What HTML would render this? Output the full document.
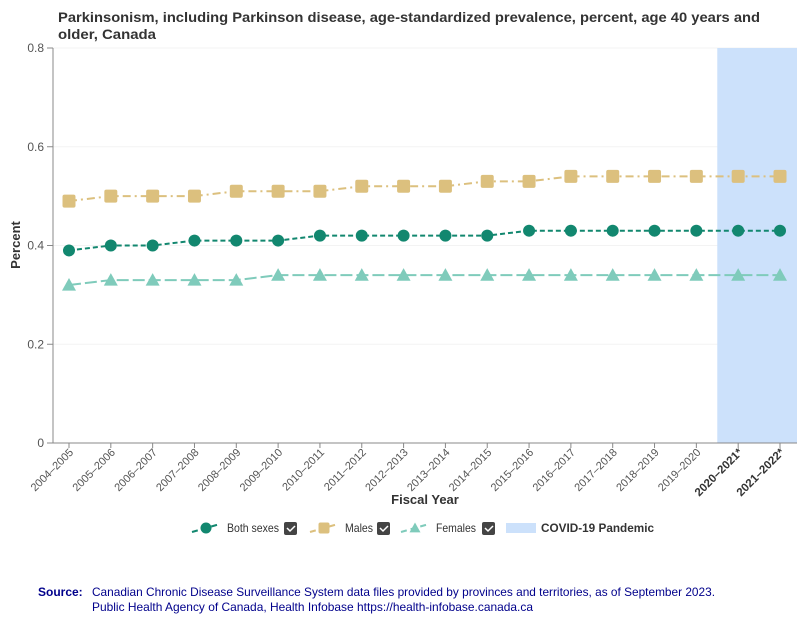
<!DOCTYPE html>
<html><head><meta charset="utf-8"><style>
body{margin:0;background:#fff;font-family:"Liberation Sans","DejaVu Sans",sans-serif;}
#wrap{position:relative;width:800px;height:620px;overflow:hidden}
</style></head><body><div id="wrap">
<svg id="chart" width="800" height="620" xmlns="http://www.w3.org/2000/svg" font-family="Liberation Sans, DejaVu Sans, sans-serif">
<text x="58" y="22" font-size="14" font-weight="bold" fill="#333" textLength="702" lengthAdjust="spacingAndGlyphs">Parkinsonism, including Parkinson disease, age-standardized prevalence, percent, age 40 years and</text>
<text x="58" y="39" font-size="14" font-weight="bold" fill="#333" textLength="98" lengthAdjust="spacingAndGlyphs">older, Canada</text>
<g id="grid"></g><g id="band"></g><g id="axes"></g><g id="series"></g>
<text transform="translate(20,245) rotate(-90)" text-anchor="middle" font-size="13" font-weight="bold" fill="#333">Percent</text>
<text x="425" y="504" text-anchor="middle" font-size="13" font-weight="bold" fill="#333">Fiscal Year</text>
<g id="legend"></g>
<text x="38" y="596" font-size="12" font-weight="bold" fill="#00008b">Source:</text>
<text x="92" y="596" font-size="12" fill="#00008b" textLength="623" lengthAdjust="spacingAndGlyphs">Canadian Chronic Disease Surveillance System data files provided by provinces and territories, as of September 2023.</text>
<text x="92" y="611" font-size="12" fill="#00008b" textLength="441" lengthAdjust="spacingAndGlyphs">Public Health Agency of Canada, Health Infobase https://health-infobase.canada.ca</text>
</svg></div>
<script>
const categories=["2004–2005","2005–2006","2006–2007","2007–2008","2008–2009","2009–2010","2010–2011","2011–2012","2012–2013","2013–2014","2014–2015","2015–2016","2016–2017","2017–2018","2018–2019","2019–2020","2020–2021*","2021–2022*"];
const bothSexes=[0.39,0.40,0.40,0.41,0.41,0.41,0.42,0.42,0.42,0.42,0.42,0.43,0.43,0.43,0.43,0.43,0.43,0.43];
const males=[0.49,0.50,0.50,0.50,0.51,0.51,0.51,0.52,0.52,0.52,0.53,0.53,0.54,0.54,0.54,0.54,0.54,0.54];
const females=[0.32,0.33,0.33,0.33,0.33,0.34,0.34,0.34,0.34,0.34,0.34,0.34,0.34,0.34,0.34,0.34,0.34,0.34];
const yTicks=[0,0.2,0.4,0.6,0.8];
const NS="http://www.w3.org/2000/svg";
const L=53,R=797,T=48,B=443,yMax=0.8;
const x=i=>69+i*(780-69)/(categories.length-1);
const y=v=>B-v/yMax*(B-T);
function mk(tag,at,parent){const e=document.createElementNS(NS,tag);for(const k in at)e.setAttribute(k,at[k]);parent.appendChild(e);return e;}
const grid=document.getElementById('grid'),axes=document.getElementById('axes'),band=document.getElementById('band'),ser=document.getElementById('series'),leg=document.getElementById('legend');
yTicks.forEach(t=>{
 const g=mk('line',{x1:L,x2:R,y1:y(t),y2:y(t),stroke:'#f3f3f3'},grid);
 
 
 const tk=mk('line',{x1:L-6,x2:L,y1:y(t),y2:y(t),stroke:'#888'},axes);
 
 
 const lb=mk('text',{x:L-9,y:y(t)+4,'text-anchor':'end','font-size':12,fill:'#555'},axes);lb.textContent=t===0?'0':t.toFixed(1);
 
 
});
const bx=(x(15)+x(16))/2;
const br=mk('rect',{x:bx,y:T,width:R-bx,height:B-T,fill:'#cce1fb'},band);


const ya=mk('line',{x1:L,x2:L,y1:T,y2:B,stroke:'#888'},axes);


const xa=mk('line',{x1:L,x2:R,y1:B,y2:B,stroke:'#888'},axes);


categories.forEach((c,i)=>{
 const tk=mk('line',{x1:x(i),x2:x(i),y1:B,y2:B+5,stroke:'#888'},axes);
 
 
 const bold=c.includes('*');
 const lb=mk('text',{transform:`translate(${x(i)+5},${B+10}) rotate(-45)`,'text-anchor':'end','font-size':bold?11.5:11,'font-weight':bold?'bold':'normal',fill:bold?'#333':'#555'},axes);lb.textContent=c;
 
 
});
function marker(shape,cx,cy,col,parent,s){
 let e;
 if(shape==='circle')e=mk('circle',{cx,cy,r:s,fill:col},parent);
 else if(shape==='square')e=mk('rect',{x:cx-s,y:cy-s,width:2*s,height:2*s,rx:2,fill:col},parent);
 else e=mk('polygon',{points:`${cx},${cy-s} ${cx+s},${cy+s*0.8} ${cx-s},${cy+s*0.8}`,fill:col},parent);
 return e;
}
const seriesDefs=[
 {name:'both-sexes',data:bothSexes,col:'#12876f',dash:'5,3',shape:'circle',s:6},
 {name:'males',data:males,col:'#dcc07e',dash:'8,4,2,4',shape:'square',s:6.5},
 {name:'females',data:females,col:'#7fcbbb',dash:'12,4',shape:'triangle',s:7}];
seriesDefs.forEach(sd=>{
 const g=mk('g',{},ser);
 
 
 const p=mk('path',{d:sd.data.map((v,i)=>(i?'L':'M')+x(i)+','+y(v)).join(''),fill:'none',stroke:sd.col,'stroke-width':2,'stroke-dasharray':sd.dash},g);
 
 
 sd.data.forEach((v,i)=>{
  const m=marker(sd.shape,x(i),y(v),sd.col,g,sd.s);
  
  
 });
});
const items=[{n:'Both sexes',sd:seriesDefs[0],x:192,tw:52,cb:284},{n:'Males',sd:seriesDefs[1],x:310,tw:28,cb:377},{n:'Females',sd:seriesDefs[2],x:401,tw:40,cb:482}];
const ly=528;
items.forEach(it=>{
 const g=mk('g',{},leg);
 
 
 mk('line',{x1:it.x,x2:it.x+28,y1:ly+4,y2:ly-4,stroke:it.sd.col,'stroke-width':2,'stroke-dasharray':'6,4'},g);
 marker(it.sd.shape,it.x+14,ly,it.sd.col,g,5.5);
 const t=mk('text',{x:it.x+35,y:ly+4,'font-size':12,fill:'#333',textLength:it.tw,lengthAdjust:'spacingAndGlyphs'},g);t.textContent=it.n;
 mk('rect',{x:it.cb,y:ly-6,width:13,height:13,rx:2,fill:'#444'},g);
 mk('path',{d:`M${it.cb+3},${ly} l3,3 l5,-5`,stroke:'#fff','stroke-width':1.5,fill:'none'},g);
});
const cg=mk('g',{},leg);


mk('rect',{x:506,y:ly-5,width:30,height:10,fill:'#cce1fb'},cg);
const ct=mk('text',{x:541,y:ly+4,'font-size':12,'font-weight':'bold',fill:'#333',textLength:113,lengthAdjust:'spacingAndGlyphs'},cg);ct.textContent='COVID-19 Pandemic';
</script></body></html>
